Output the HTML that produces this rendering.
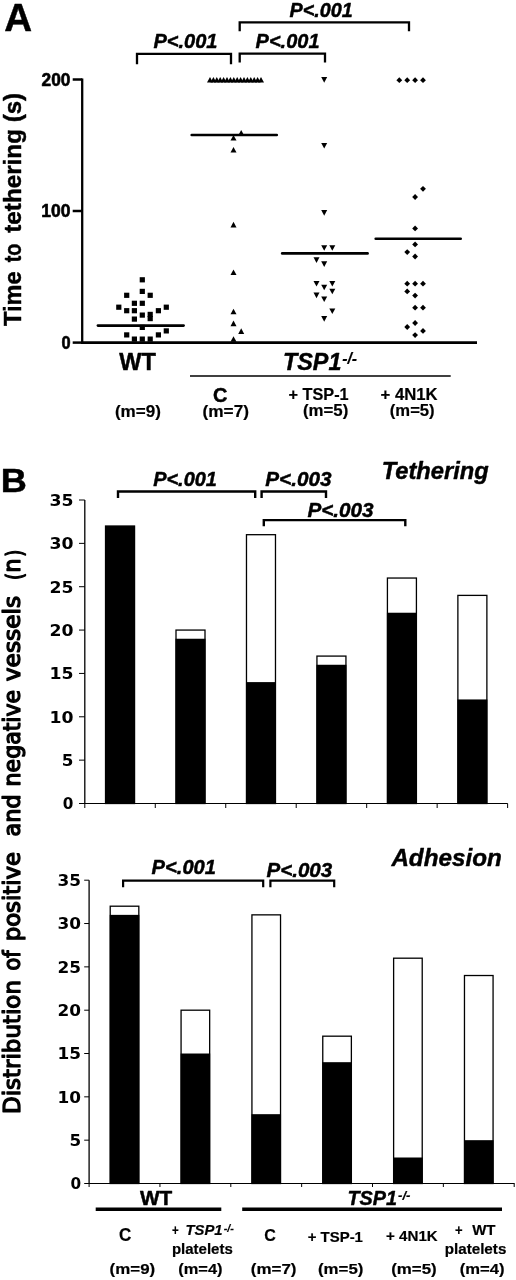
<!DOCTYPE html>
<html><head><meta charset="utf-8"><title>Figure</title>
<style>html,body{margin:0;padding:0;background:#fff}svg{display:block}text{fill:#000;stroke:#000;stroke-width:0.45px;stroke-linejoin:round}</style></head>
<body>
<svg width="516" height="1280" viewBox="0 0 516 1280">
<rect width="516" height="1280" fill="#fff"/>
<line x1="82.20" y1="78.40" x2="82.20" y2="343.75" stroke="#000" stroke-width="2.3" stroke-linecap="butt"/>
<line x1="81.05" y1="342.60" x2="477.00" y2="342.60" stroke="#000" stroke-width="2.7" stroke-linecap="butt"/>
<line x1="72.70" y1="79.50" x2="82.20" y2="79.50" stroke="#000" stroke-width="2.5" stroke-linecap="butt"/>
<line x1="72.70" y1="211.00" x2="82.20" y2="211.00" stroke="#000" stroke-width="2.5" stroke-linecap="butt"/>
<line x1="72.70" y1="342.60" x2="82.20" y2="342.60" stroke="#000" stroke-width="2.5" stroke-linecap="butt"/>
<line x1="97.90" y1="325.60" x2="183.60" y2="325.60" stroke="#000" stroke-width="2.6" stroke-linecap="round"/>
<line x1="191.70" y1="135.00" x2="276.80" y2="135.00" stroke="#000" stroke-width="2.6" stroke-linecap="round"/>
<line x1="282.20" y1="253.40" x2="367.60" y2="253.40" stroke="#000" stroke-width="2.6" stroke-linecap="round"/>
<line x1="375.70" y1="238.80" x2="460.70" y2="238.80" stroke="#000" stroke-width="2.6" stroke-linecap="round"/>
<path d="M137.00 64.30V53.80H231.00V64.30" fill="none" stroke="#000" stroke-width="2.3" stroke-linejoin="miter"/>
<path d="M239.70 31.30V22.30H409.00V31.30" fill="none" stroke="#000" stroke-width="2.3" stroke-linejoin="miter"/>
<path d="M239.70 62.60V53.60H325.00V62.60" fill="none" stroke="#000" stroke-width="2.3" stroke-linejoin="miter"/>
<line x1="190.00" y1="376.00" x2="450.70" y2="376.00" stroke="#000" stroke-width="1.7" stroke-linecap="butt"/>
<rect x="139.70" y="277.20" width="5.2" height="5.2"/>
<rect x="139.70" y="288.80" width="5.2" height="5.2"/>
<rect x="124.10" y="292.70" width="5.2" height="5.2"/>
<rect x="147.60" y="292.70" width="5.2" height="5.2"/>
<rect x="131.80" y="300.70" width="5.2" height="5.2"/>
<rect x="139.70" y="300.70" width="5.2" height="5.2"/>
<rect x="116.20" y="304.60" width="5.2" height="5.2"/>
<rect x="163.70" y="304.60" width="5.2" height="5.2"/>
<rect x="124.10" y="308.10" width="5.2" height="5.2"/>
<rect x="131.80" y="308.10" width="5.2" height="5.2"/>
<rect x="155.80" y="308.10" width="5.2" height="5.2"/>
<rect x="139.70" y="312.50" width="5.2" height="5.2"/>
<rect x="147.60" y="311.80" width="5.2" height="5.2"/>
<rect x="131.80" y="316.50" width="5.2" height="5.2"/>
<rect x="147.60" y="316.00" width="5.2" height="5.2"/>
<rect x="139.70" y="324.80" width="5.2" height="5.2"/>
<rect x="163.70" y="328.30" width="5.2" height="5.2"/>
<rect x="124.10" y="332.30" width="5.2" height="5.2"/>
<rect x="155.80" y="332.30" width="5.2" height="5.2"/>
<rect x="131.80" y="336.50" width="5.2" height="5.2"/>
<rect x="139.70" y="336.50" width="5.2" height="5.2"/>
<rect x="147.60" y="336.50" width="5.2" height="5.2"/>
<path d="M238.20 135.50L241.20 129.90L244.20 135.50Z"/>
<path d="M230.50 140.60L233.50 135.00L236.50 140.60Z"/>
<path d="M230.50 152.50L233.50 146.90L236.50 152.50Z"/>
<path d="M230.50 227.40L233.50 221.80L236.50 227.40Z"/>
<path d="M230.50 275.00L233.50 269.40L236.50 275.00Z"/>
<path d="M230.50 314.30L233.50 308.70L236.50 314.30Z"/>
<path d="M230.50 326.20L233.50 320.60L236.50 326.20Z"/>
<path d="M238.20 333.90L241.20 328.30L244.20 333.90Z"/>
<path d="M230.50 341.80L233.50 336.20L236.50 341.80Z"/>
<path d="M207.00 82.50L210.00 76.90L213.00 82.50Z"/>
<path d="M210.40 82.50L213.40 76.90L216.40 82.50Z"/>
<path d="M213.80 82.50L216.80 76.90L219.80 82.50Z"/>
<path d="M217.20 82.50L220.20 76.90L223.20 82.50Z"/>
<path d="M220.60 82.50L223.60 76.90L226.60 82.50Z"/>
<path d="M224.00 82.50L227.00 76.90L230.00 82.50Z"/>
<path d="M227.40 82.50L230.40 76.90L233.40 82.50Z"/>
<path d="M230.80 82.50L233.80 76.90L236.80 82.50Z"/>
<path d="M234.20 82.50L237.20 76.90L240.20 82.50Z"/>
<path d="M237.60 82.50L240.60 76.90L243.60 82.50Z"/>
<path d="M241.00 82.50L244.00 76.90L247.00 82.50Z"/>
<path d="M244.40 82.50L247.40 76.90L250.40 82.50Z"/>
<path d="M247.80 82.50L250.80 76.90L253.80 82.50Z"/>
<path d="M251.20 82.50L254.20 76.90L257.20 82.50Z"/>
<path d="M254.60 82.50L257.60 76.90L260.60 82.50Z"/>
<path d="M258.00 82.50L261.00 76.90L264.00 82.50Z"/>
<path d="M321.20 77.10L324.20 82.70L327.20 77.10Z"/>
<path d="M321.20 142.90L324.20 148.50L327.20 142.90Z"/>
<path d="M321.20 210.10L324.20 215.70L327.20 210.10Z"/>
<path d="M321.20 245.20L324.20 250.80L327.20 245.20Z"/>
<path d="M329.30 245.20L332.30 250.80L335.30 245.20Z"/>
<path d="M313.50 257.30L316.50 262.90L319.50 257.30Z"/>
<path d="M321.20 261.30L324.20 266.90L327.20 261.30Z"/>
<path d="M313.50 281.00L316.50 286.60L319.50 281.00Z"/>
<path d="M329.30 281.00L332.30 286.60L335.30 281.00Z"/>
<path d="M321.20 284.70L324.20 290.30L327.20 284.70Z"/>
<path d="M329.30 288.70L332.30 294.30L335.30 288.70Z"/>
<path d="M313.50 292.60L316.50 298.20L319.50 292.60Z"/>
<path d="M321.20 296.40L324.20 302.00L327.20 296.40Z"/>
<path d="M329.30 308.50L332.30 314.10L335.30 308.50Z"/>
<path d="M321.20 316.10L324.20 321.70L327.20 316.10Z"/>
<path d="M396.40 80.20L399.30 77.30L402.20 80.20L399.30 83.10Z"/>
<path d="M404.30 80.20L407.20 77.30L410.10 80.20L407.20 83.10Z"/>
<path d="M412.20 80.20L415.10 77.30L418.00 80.20L415.10 83.10Z"/>
<path d="M420.10 80.20L423.00 77.30L425.90 80.20L423.00 83.10Z"/>
<path d="M420.10 188.80L423.00 185.90L425.90 188.80L423.00 191.70Z"/>
<path d="M412.20 197.00L415.10 194.10L418.00 197.00L415.10 199.90Z"/>
<path d="M412.20 228.40L415.10 225.50L418.00 228.40L415.10 231.30Z"/>
<path d="M412.20 244.40L415.10 241.50L418.00 244.40L415.10 247.30Z"/>
<path d="M404.30 252.10L407.20 249.20L410.10 252.10L407.20 255.00Z"/>
<path d="M412.20 256.50L415.10 253.60L418.00 256.50L415.10 259.40Z"/>
<path d="M404.30 283.70L407.20 280.80L410.10 283.70L407.20 286.60Z"/>
<path d="M412.20 283.70L415.10 280.80L418.00 283.70L415.10 286.60Z"/>
<path d="M420.10 283.70L423.00 280.80L425.90 283.70L423.00 286.60Z"/>
<path d="M404.30 291.40L407.20 288.50L410.10 291.40L407.20 294.30Z"/>
<path d="M412.20 295.60L415.10 292.70L418.00 295.60L415.10 298.50Z"/>
<path d="M412.20 307.70L415.10 304.80L418.00 307.70L415.10 310.60Z"/>
<path d="M420.10 307.70L423.00 304.80L425.90 307.70L423.00 310.60Z"/>
<path d="M412.20 323.00L415.10 320.10L418.00 323.00L415.10 325.90Z"/>
<path d="M404.30 327.00L407.20 324.10L410.10 327.00L407.20 329.90Z"/>
<path d="M420.10 330.90L423.00 328.00L425.90 330.90L423.00 333.80Z"/>
<path d="M412.20 335.10L415.10 332.20L418.00 335.10L415.10 338.00Z"/>
<line x1="84.80" y1="500.00" x2="84.80" y2="803.50" stroke="#000" stroke-width="1.3" stroke-linecap="butt"/>
<line x1="79.00" y1="803.50" x2="507.70" y2="803.50" stroke="#000" stroke-width="1.2" stroke-linecap="butt"/>
<line x1="79.00" y1="760.14" x2="84.80" y2="760.14" stroke="#000" stroke-width="1" stroke-linecap="butt"/>
<line x1="79.00" y1="716.79" x2="84.80" y2="716.79" stroke="#000" stroke-width="1" stroke-linecap="butt"/>
<line x1="79.00" y1="673.43" x2="84.80" y2="673.43" stroke="#000" stroke-width="1" stroke-linecap="butt"/>
<line x1="79.00" y1="630.07" x2="84.80" y2="630.07" stroke="#000" stroke-width="1" stroke-linecap="butt"/>
<line x1="79.00" y1="586.71" x2="84.80" y2="586.71" stroke="#000" stroke-width="1" stroke-linecap="butt"/>
<line x1="79.00" y1="543.36" x2="84.80" y2="543.36" stroke="#000" stroke-width="1" stroke-linecap="butt"/>
<line x1="79.00" y1="500.00" x2="84.80" y2="500.00" stroke="#000" stroke-width="1" stroke-linecap="butt"/>
<line x1="155.27" y1="803.50" x2="155.27" y2="808.00" stroke="#000" stroke-width="1" stroke-linecap="butt"/>
<line x1="225.74" y1="803.50" x2="225.74" y2="808.00" stroke="#000" stroke-width="1" stroke-linecap="butt"/>
<line x1="296.21" y1="803.50" x2="296.21" y2="808.00" stroke="#000" stroke-width="1" stroke-linecap="butt"/>
<line x1="366.68" y1="803.50" x2="366.68" y2="808.00" stroke="#000" stroke-width="1" stroke-linecap="butt"/>
<line x1="437.15" y1="803.50" x2="437.15" y2="808.00" stroke="#000" stroke-width="1" stroke-linecap="butt"/>
<line x1="507.62" y1="803.50" x2="507.62" y2="808.00" stroke="#000" stroke-width="1" stroke-linecap="butt"/>
<line x1="84.80" y1="803.50" x2="84.80" y2="808.00" stroke="#000" stroke-width="1" stroke-linecap="butt"/>
<rect x="105.53" y="526.01" width="29" height="277.49" fill="#fff" stroke="#000" stroke-width="1.3"/>
<rect x="105.03" y="526.01" width="30" height="277.49" fill="#000"/>
<rect x="176.00" y="630.07" width="29" height="173.43" fill="#fff" stroke="#000" stroke-width="1.3"/>
<rect x="175.50" y="638.74" width="30" height="164.76" fill="#000"/>
<rect x="246.48" y="534.69" width="29" height="268.81" fill="#fff" stroke="#000" stroke-width="1.3"/>
<rect x="245.98" y="682.10" width="30" height="121.40" fill="#000"/>
<rect x="316.94" y="656.09" width="29" height="147.41" fill="#fff" stroke="#000" stroke-width="1.3"/>
<rect x="316.44" y="664.76" width="30" height="138.74" fill="#000"/>
<rect x="387.42" y="578.04" width="29" height="225.46" fill="#fff" stroke="#000" stroke-width="1.3"/>
<rect x="386.92" y="612.73" width="30" height="190.77" fill="#000"/>
<rect x="457.88" y="595.39" width="29" height="208.11" fill="#fff" stroke="#000" stroke-width="1.3"/>
<rect x="457.38" y="699.44" width="30" height="104.06" fill="#000"/>
<line x1="89.10" y1="880.20" x2="89.10" y2="1183.50" stroke="#000" stroke-width="1.3" stroke-linecap="butt"/>
<line x1="84.20" y1="1183.50" x2="514.60" y2="1183.50" stroke="#000" stroke-width="1.2" stroke-linecap="butt"/>
<line x1="84.20" y1="1140.17" x2="89.10" y2="1140.17" stroke="#000" stroke-width="1" stroke-linecap="butt"/>
<line x1="84.20" y1="1096.84" x2="89.10" y2="1096.84" stroke="#000" stroke-width="1" stroke-linecap="butt"/>
<line x1="84.20" y1="1053.51" x2="89.10" y2="1053.51" stroke="#000" stroke-width="1" stroke-linecap="butt"/>
<line x1="84.20" y1="1010.19" x2="89.10" y2="1010.19" stroke="#000" stroke-width="1" stroke-linecap="butt"/>
<line x1="84.20" y1="966.86" x2="89.10" y2="966.86" stroke="#000" stroke-width="1" stroke-linecap="butt"/>
<line x1="84.20" y1="923.53" x2="89.10" y2="923.53" stroke="#000" stroke-width="1" stroke-linecap="butt"/>
<line x1="84.20" y1="880.20" x2="89.10" y2="880.20" stroke="#000" stroke-width="1" stroke-linecap="butt"/>
<line x1="159.95" y1="1183.50" x2="159.95" y2="1187.00" stroke="#000" stroke-width="1" stroke-linecap="butt"/>
<line x1="230.80" y1="1183.50" x2="230.80" y2="1187.00" stroke="#000" stroke-width="1" stroke-linecap="butt"/>
<line x1="301.65" y1="1183.50" x2="301.65" y2="1187.00" stroke="#000" stroke-width="1" stroke-linecap="butt"/>
<line x1="372.50" y1="1183.50" x2="372.50" y2="1187.00" stroke="#000" stroke-width="1" stroke-linecap="butt"/>
<line x1="443.35" y1="1183.50" x2="443.35" y2="1187.00" stroke="#000" stroke-width="1" stroke-linecap="butt"/>
<line x1="514.20" y1="1183.50" x2="514.20" y2="1187.00" stroke="#000" stroke-width="1" stroke-linecap="butt"/>
<line x1="89.10" y1="1183.50" x2="89.10" y2="1187.00" stroke="#000" stroke-width="1" stroke-linecap="butt"/>
<rect x="110.22" y="906.20" width="28.6" height="277.30" fill="#fff" stroke="#000" stroke-width="1.3"/>
<rect x="109.72" y="914.86" width="29.6" height="268.64" fill="#000"/>
<rect x="181.07" y="1010.19" width="28.6" height="173.31" fill="#fff" stroke="#000" stroke-width="1.3"/>
<rect x="180.57" y="1053.51" width="29.6" height="129.99" fill="#000"/>
<rect x="251.93" y="914.86" width="28.6" height="268.64" fill="#fff" stroke="#000" stroke-width="1.3"/>
<rect x="251.43" y="1114.17" width="29.6" height="69.33" fill="#000"/>
<rect x="322.77" y="1036.18" width="28.6" height="147.32" fill="#fff" stroke="#000" stroke-width="1.3"/>
<rect x="322.27" y="1062.18" width="29.6" height="121.32" fill="#000"/>
<rect x="393.62" y="958.19" width="28.6" height="225.31" fill="#fff" stroke="#000" stroke-width="1.3"/>
<rect x="393.12" y="1157.50" width="29.6" height="26.00" fill="#000"/>
<rect x="464.47" y="975.52" width="28.6" height="207.98" fill="#fff" stroke="#000" stroke-width="1.3"/>
<rect x="463.97" y="1140.17" width="29.6" height="43.33" fill="#000"/>
<path d="M118.00 498.00V491.50H255.20V498.00" fill="none" stroke="#000" stroke-width="2.4" stroke-linejoin="miter"/>
<path d="M261.60 498.00V491.50H326.00V498.00" fill="none" stroke="#000" stroke-width="2.4" stroke-linejoin="miter"/>
<path d="M263.80 526.30V520.10H405.30V526.30" fill="none" stroke="#000" stroke-width="2.4" stroke-linejoin="miter"/>
<path d="M123.10 887.20V880.60H263.20V887.20" fill="none" stroke="#000" stroke-width="2.2" stroke-linejoin="miter"/>
<path d="M270.40 887.20V880.60H334.20V887.20" fill="none" stroke="#000" stroke-width="2.2" stroke-linejoin="miter"/>
<line x1="95.70" y1="1209.30" x2="221.30" y2="1209.30" stroke="#000" stroke-width="3.5" stroke-linecap="butt"/>
<line x1="242.20" y1="1209.30" x2="502.00" y2="1209.30" stroke="#000" stroke-width="3.5" stroke-linecap="butt"/>
<text x="4.30" y="31.00"  font-family="'Liberation Sans', Arial, Helvetica, sans-serif" font-size="39" font-weight="bold" font-style="normal" textLength="27.86" lengthAdjust="spacingAndGlyphs">A</text>
<text x="153.40" y="47.60"  font-family="'Liberation Sans', Arial, Helvetica, sans-serif" font-size="20" font-weight="bold" font-style="italic" textLength="64.12" lengthAdjust="spacingAndGlyphs">P&lt;.001</text>
<text x="289.50" y="16.80"  font-family="'Liberation Sans', Arial, Helvetica, sans-serif" font-size="20" font-weight="bold" font-style="italic" textLength="63.22" lengthAdjust="spacingAndGlyphs">P&lt;.001</text>
<text x="255.60" y="47.60"  font-family="'Liberation Sans', Arial, Helvetica, sans-serif" font-size="20" font-weight="bold" font-style="italic" textLength="63.92" lengthAdjust="spacingAndGlyphs">P&lt;.001</text>
<text x="41.50" y="85.80" style="stroke-width:0.6px" font-family="'Liberation Sans', Arial, Helvetica, sans-serif" font-size="18" font-weight="bold" font-style="normal" textLength="28.91" lengthAdjust="spacingAndGlyphs">200</text>
<text x="41.23" y="217.10" style="stroke-width:0.6px" font-family="'Liberation Sans', Arial, Helvetica, sans-serif" font-size="18" font-weight="bold" font-style="normal" textLength="29.18" lengthAdjust="spacingAndGlyphs">100</text>
<text x="61.50" y="348.80" style="stroke-width:0.6px" font-family="'Liberation Sans', Arial, Helvetica, sans-serif" font-size="18" font-weight="bold" font-style="normal" textLength="9.11" lengthAdjust="spacingAndGlyphs">0</text>
<text x="119.20" y="369.50"  font-family="'Liberation Sans', Arial, Helvetica, sans-serif" font-size="23" font-weight="bold" font-style="normal" textLength="36.65" lengthAdjust="spacingAndGlyphs">WT</text>
<text x="283.01" y="370.10"  font-family="'Liberation Sans', Arial, Helvetica, sans-serif" font-size="23.5" font-weight="bold" font-style="italic" textLength="58.46" lengthAdjust="spacingAndGlyphs">TSP1</text>
<text x="342.20" y="364.00" style="stroke-width:0.2px" font-family="'Liberation Sans', Arial, Helvetica, sans-serif" font-size="16" font-weight="bold" font-style="italic" textLength="14.92" lengthAdjust="spacingAndGlyphs">-/-</text>
<text x="213.00" y="402.00"  font-family="'Liberation Sans', Arial, Helvetica, sans-serif" font-size="19.5" font-weight="bold" font-style="normal" textLength="14.38" lengthAdjust="spacingAndGlyphs">C</text>
<text x="114.90" y="416.60" style="stroke-width:0.2px" font-family="'Liberation Sans', Arial, Helvetica, sans-serif" font-size="16" font-weight="bold" font-style="normal" textLength="45.95" lengthAdjust="spacingAndGlyphs">(m=9)</text>
<text x="202.50" y="416.60" style="stroke-width:0.2px" font-family="'Liberation Sans', Arial, Helvetica, sans-serif" font-size="16" font-weight="bold" font-style="normal" textLength="46.45" lengthAdjust="spacingAndGlyphs">(m=7)</text>
<text x="288.50" y="399.80" style="stroke-width:0.2px" font-family="'Liberation Sans', Arial, Helvetica, sans-serif" font-size="17.3" font-weight="bold" font-style="normal" textLength="60.13" lengthAdjust="spacingAndGlyphs">+ TSP-1</text>
<text x="303.00" y="416.40" style="stroke-width:0.2px" font-family="'Liberation Sans', Arial, Helvetica, sans-serif" font-size="16" font-weight="bold" font-style="normal" textLength="45.24" lengthAdjust="spacingAndGlyphs">(m=5)</text>
<text x="380.50" y="399.60" style="stroke-width:0.2px" font-family="'Liberation Sans', Arial, Helvetica, sans-serif" font-size="17.3" font-weight="bold" font-style="normal" textLength="57.20" lengthAdjust="spacingAndGlyphs">+ 4N1K</text>
<text x="389.80" y="416.30" style="stroke-width:0.2px" font-family="'Liberation Sans', Arial, Helvetica, sans-serif" font-size="16" font-weight="bold" font-style="normal" textLength="44.84" lengthAdjust="spacingAndGlyphs">(m=5)</text>
<text transform="translate(20.80 326.00) rotate(-90)" x="0" y="0"  font-family="'Liberation Sans', Arial, Helvetica, sans-serif" font-size="24.5" font-weight="bold" font-style="normal" textLength="54.70" lengthAdjust="spacingAndGlyphs">Time</text>
<text transform="translate(20.80 262.30) rotate(-90)" x="0" y="0"  font-family="'Liberation Sans', Arial, Helvetica, sans-serif" font-size="24.5" font-weight="bold" font-style="normal" textLength="18.57" lengthAdjust="spacingAndGlyphs">to</text>
<text transform="translate(20.80 232.70) rotate(-90)" x="0" y="0"  font-family="'Liberation Sans', Arial, Helvetica, sans-serif" font-size="24.5" font-weight="bold" font-style="normal" textLength="103.65" lengthAdjust="spacingAndGlyphs">tethering</text>
<text transform="translate(20.80 122.28) rotate(-90)" x="0" y="0"  font-family="'Liberation Sans', Arial, Helvetica, sans-serif" font-size="24.5" font-weight="bold" font-style="normal" textLength="29.42" lengthAdjust="spacingAndGlyphs">(s)</text>
<text x="0.87" y="492.00"  font-family="'Liberation Sans', Arial, Helvetica, sans-serif" font-size="34" font-weight="bold" font-style="normal" textLength="26.12" lengthAdjust="spacingAndGlyphs">B</text>
<text x="153.20" y="486.20"  font-family="'Liberation Sans', Arial, Helvetica, sans-serif" font-size="20" font-weight="bold" font-style="italic" textLength="63.72" lengthAdjust="spacingAndGlyphs">P&lt;.001</text>
<text x="265.30" y="486.40"  font-family="'Liberation Sans', Arial, Helvetica, sans-serif" font-size="20" font-weight="bold" font-style="italic" textLength="66.23" lengthAdjust="spacingAndGlyphs">P&lt;.003</text>
<text x="307.50" y="517.40"  font-family="'Liberation Sans', Arial, Helvetica, sans-serif" font-size="20" font-weight="bold" font-style="italic" textLength="66.13" lengthAdjust="spacingAndGlyphs">P&lt;.003</text>
<text x="381.71" y="479.30"  font-family="'Liberation Sans', Arial, Helvetica, sans-serif" font-size="24" font-weight="bold" font-style="italic" textLength="106.95" lengthAdjust="spacingAndGlyphs">Tethering</text>
<text x="391.39" y="865.50"  font-family="'Liberation Sans', Arial, Helvetica, sans-serif" font-size="24.5" font-weight="bold" font-style="italic" textLength="110.37" lengthAdjust="spacingAndGlyphs">Adhesion</text>
<text x="151.60" y="874.40"  font-family="'Liberation Sans', Arial, Helvetica, sans-serif" font-size="20" font-weight="bold" font-style="italic" textLength="64.42" lengthAdjust="spacingAndGlyphs">P&lt;.001</text>
<text x="266.50" y="877.20"  font-family="'Liberation Sans', Arial, Helvetica, sans-serif" font-size="20" font-weight="bold" font-style="italic" textLength="65.63" lengthAdjust="spacingAndGlyphs">P&lt;.003</text>
<text x="62.80" y="809.30" style="stroke:none" font-family="'DejaVu Sans', Verdana, sans-serif" font-size="16" font-weight="bold" font-style="normal" textLength="10.63" lengthAdjust="spacingAndGlyphs">0</text>
<text x="61.75" y="765.95" style="stroke:none" font-family="'DejaVu Sans', Verdana, sans-serif" font-size="16" font-weight="bold" font-style="normal" textLength="11.69" lengthAdjust="spacingAndGlyphs">5</text>
<text x="49.42" y="722.60" style="stroke:none" font-family="'DejaVu Sans', Verdana, sans-serif" font-size="16" font-weight="bold" font-style="normal" textLength="24.02" lengthAdjust="spacingAndGlyphs">10</text>
<text x="49.42" y="679.25" style="stroke:none" font-family="'DejaVu Sans', Verdana, sans-serif" font-size="16" font-weight="bold" font-style="normal" textLength="24.02" lengthAdjust="spacingAndGlyphs">15</text>
<text x="49.42" y="635.90" style="stroke:none" font-family="'DejaVu Sans', Verdana, sans-serif" font-size="16" font-weight="bold" font-style="normal" textLength="24.02" lengthAdjust="spacingAndGlyphs">20</text>
<text x="49.42" y="592.55" style="stroke:none" font-family="'DejaVu Sans', Verdana, sans-serif" font-size="16" font-weight="bold" font-style="normal" textLength="24.02" lengthAdjust="spacingAndGlyphs">25</text>
<text x="49.42" y="549.20" style="stroke:none" font-family="'DejaVu Sans', Verdana, sans-serif" font-size="16" font-weight="bold" font-style="normal" textLength="24.02" lengthAdjust="spacingAndGlyphs">30</text>
<text x="49.42" y="505.85" style="stroke:none" font-family="'DejaVu Sans', Verdana, sans-serif" font-size="16" font-weight="bold" font-style="normal" textLength="24.02" lengthAdjust="spacingAndGlyphs">35</text>
<text x="70.50" y="1189.30" style="stroke:none" font-family="'DejaVu Sans', Verdana, sans-serif" font-size="16" font-weight="bold" font-style="normal" textLength="10.63" lengthAdjust="spacingAndGlyphs">0</text>
<text x="69.45" y="1145.97" style="stroke:none" font-family="'DejaVu Sans', Verdana, sans-serif" font-size="16" font-weight="bold" font-style="normal" textLength="11.69" lengthAdjust="spacingAndGlyphs">5</text>
<text x="57.64" y="1102.64" style="stroke:none" font-family="'DejaVu Sans', Verdana, sans-serif" font-size="16" font-weight="bold" font-style="normal" textLength="23.50" lengthAdjust="spacingAndGlyphs">10</text>
<text x="57.64" y="1059.31" style="stroke:none" font-family="'DejaVu Sans', Verdana, sans-serif" font-size="16" font-weight="bold" font-style="normal" textLength="23.50" lengthAdjust="spacingAndGlyphs">15</text>
<text x="57.64" y="1015.98" style="stroke:none" font-family="'DejaVu Sans', Verdana, sans-serif" font-size="16" font-weight="bold" font-style="normal" textLength="23.50" lengthAdjust="spacingAndGlyphs">20</text>
<text x="57.64" y="972.65" style="stroke:none" font-family="'DejaVu Sans', Verdana, sans-serif" font-size="16" font-weight="bold" font-style="normal" textLength="23.50" lengthAdjust="spacingAndGlyphs">25</text>
<text x="57.64" y="929.32" style="stroke:none" font-family="'DejaVu Sans', Verdana, sans-serif" font-size="16" font-weight="bold" font-style="normal" textLength="23.50" lengthAdjust="spacingAndGlyphs">30</text>
<text x="57.64" y="885.99" style="stroke:none" font-family="'DejaVu Sans', Verdana, sans-serif" font-size="16" font-weight="bold" font-style="normal" textLength="23.50" lengthAdjust="spacingAndGlyphs">35</text>
<text transform="translate(20.10 1114.06) rotate(-90)" x="0" y="0" style="stroke-width:1.3px" font-family="'DejaVu Sans', Verdana, sans-serif" font-size="22.3" font-weight="normal" font-style="normal" textLength="134.03" lengthAdjust="spacingAndGlyphs">Distribution</text>
<text transform="translate(20.10 970.44) rotate(-90)" x="0" y="0" style="stroke-width:1.3px" font-family="'DejaVu Sans', Verdana, sans-serif" font-size="22.3" font-weight="normal" font-style="normal" textLength="20.16" lengthAdjust="spacingAndGlyphs">of</text>
<text transform="translate(20.10 941.35) rotate(-90)" x="0" y="0" style="stroke-width:1.3px" font-family="'DejaVu Sans', Verdana, sans-serif" font-size="22.3" font-weight="normal" font-style="normal" textLength="89.48" lengthAdjust="spacingAndGlyphs">positive</text>
<text transform="translate(20.10 836.40) rotate(-90)" x="0" y="0" style="stroke-width:1.3px" font-family="'DejaVu Sans', Verdana, sans-serif" font-size="22.3" font-weight="normal" font-style="normal" textLength="41.95" lengthAdjust="spacingAndGlyphs">and</text>
<text transform="translate(20.10 786.38) rotate(-90)" x="0" y="0" style="stroke-width:1.3px" font-family="'DejaVu Sans', Verdana, sans-serif" font-size="22.3" font-weight="normal" font-style="normal" textLength="96.49" lengthAdjust="spacingAndGlyphs">negative</text>
<text transform="translate(20.10 681.30) rotate(-90)" x="0" y="0" style="stroke-width:1.3px" font-family="'DejaVu Sans', Verdana, sans-serif" font-size="22.3" font-weight="normal" font-style="normal" textLength="85.55" lengthAdjust="spacingAndGlyphs">vessels</text>
<text transform="translate(20.10 572.56) rotate(-90)" x="0" y="0" style="stroke-width:1.3px" font-family="'DejaVu Sans', Verdana, sans-serif" font-size="22.3" font-weight="normal" font-style="normal" textLength="13.87" lengthAdjust="spacingAndGlyphs">n</text>
<text x="140.00" y="1204.90"  font-family="'Liberation Sans', Arial, Helvetica, sans-serif" font-size="19.5" font-weight="bold" font-style="normal" textLength="32.31" lengthAdjust="spacingAndGlyphs">WT</text>
<text x="347.52" y="1204.90"  font-family="'Liberation Sans', Arial, Helvetica, sans-serif" font-size="20.2" font-weight="bold" font-style="italic" textLength="49.50" lengthAdjust="spacingAndGlyphs">TSP1</text>
<text x="398.00" y="1200.20" style="stroke-width:0.2px" font-family="'Liberation Sans', Arial, Helvetica, sans-serif" font-size="13.5" font-weight="bold" font-style="italic" textLength="12.41" lengthAdjust="spacingAndGlyphs">-/-</text>
<text x="119.00" y="1240.80" style="stroke-width:0.2px" font-family="'Liberation Sans', Arial, Helvetica, sans-serif" font-size="18" font-weight="bold" font-style="normal" textLength="12.30" lengthAdjust="spacingAndGlyphs">C</text>
<text x="171.90" y="1235.10" style="stroke-width:0.2px" font-family="'Liberation Sans', Arial, Helvetica, sans-serif" font-size="14.8" font-weight="bold" font-style="normal" textLength="6.72" lengthAdjust="spacingAndGlyphs">+</text>
<text x="185.50" y="1235.10" style="stroke-width:0.2px" font-family="'Liberation Sans', Arial, Helvetica, sans-serif" font-size="14.8" font-weight="bold" font-style="italic" textLength="37.13" lengthAdjust="spacingAndGlyphs">TSP1</text>
<text x="223.70" y="1231.60" style="stroke-width:0.2px" font-family="'Liberation Sans', Arial, Helvetica, sans-serif" font-size="11" font-weight="bold" font-style="italic" textLength="10.07" lengthAdjust="spacingAndGlyphs">-/-</text>
<text x="171.90" y="1253.70" style="stroke-width:0.2px" font-family="'Liberation Sans', Arial, Helvetica, sans-serif" font-size="15" font-weight="bold" font-style="normal" textLength="60.84" lengthAdjust="spacingAndGlyphs">platelets</text>
<text x="109.60" y="1273.70" style="stroke-width:0.2px" font-family="'Liberation Sans', Arial, Helvetica, sans-serif" font-size="15.5" font-weight="bold" font-style="normal" textLength="45.58" lengthAdjust="spacingAndGlyphs">(m=9)</text>
<text x="178.30" y="1273.60" style="stroke-width:0.2px" font-family="'Liberation Sans', Arial, Helvetica, sans-serif" font-size="15.5" font-weight="bold" font-style="normal" textLength="44.27" lengthAdjust="spacingAndGlyphs">(m=4)</text>
<text x="264.20" y="1241.00" style="stroke-width:0.2px" font-family="'Liberation Sans', Arial, Helvetica, sans-serif" font-size="17" font-weight="bold" font-style="normal" textLength="11.56" lengthAdjust="spacingAndGlyphs">C</text>
<text x="307.70" y="1241.70" style="stroke-width:0.2px" font-family="'Liberation Sans', Arial, Helvetica, sans-serif" font-size="15" font-weight="bold" font-style="normal" textLength="55.24" lengthAdjust="spacingAndGlyphs">+ TSP-1</text>
<text x="250.80" y="1273.80" style="stroke-width:0.2px" font-family="'Liberation Sans', Arial, Helvetica, sans-serif" font-size="15.5" font-weight="bold" font-style="normal" textLength="45.68" lengthAdjust="spacingAndGlyphs">(m=7)</text>
<text x="318.00" y="1273.80" style="stroke-width:0.2px" font-family="'Liberation Sans', Arial, Helvetica, sans-serif" font-size="15.5" font-weight="bold" font-style="normal" textLength="45.38" lengthAdjust="spacingAndGlyphs">(m=5)</text>
<text x="386.00" y="1241.40" style="stroke-width:0.2px" font-family="'Liberation Sans', Arial, Helvetica, sans-serif" font-size="15" font-weight="bold" font-style="normal" textLength="51.73" lengthAdjust="spacingAndGlyphs">+ 4N1K</text>
<text x="391.20" y="1273.80" style="stroke-width:0.2px" font-family="'Liberation Sans', Arial, Helvetica, sans-serif" font-size="15.5" font-weight="bold" font-style="normal" textLength="45.48" lengthAdjust="spacingAndGlyphs">(m=5)</text>
<text x="455.10" y="1235.10" style="stroke-width:0.2px" font-family="'Liberation Sans', Arial, Helvetica, sans-serif" font-size="15" font-weight="bold" font-style="normal" textLength="7.59" lengthAdjust="spacingAndGlyphs">+</text>
<text x="472.20" y="1235.10" style="stroke-width:0.2px" font-family="'Liberation Sans', Arial, Helvetica, sans-serif" font-size="15" font-weight="bold" font-style="normal" textLength="23.36" lengthAdjust="spacingAndGlyphs">WT</text>
<text x="444.70" y="1253.50" style="stroke-width:0.2px" font-family="'Liberation Sans', Arial, Helvetica, sans-serif" font-size="15" font-weight="bold" font-style="normal" textLength="61.65" lengthAdjust="spacingAndGlyphs">platelets</text>
<text x="459.80" y="1273.90" style="stroke-width:0.2px" font-family="'Liberation Sans', Arial, Helvetica, sans-serif" font-size="15.5" font-weight="bold" font-style="normal" textLength="44.77" lengthAdjust="spacingAndGlyphs">(m=4)</text>
<text transform="translate(23.00 580.02) rotate(-90)" x="0" y="0" style="stroke-width:1.3px" font-family="'DejaVu Sans', Verdana, sans-serif" font-size="22.3" font-weight="normal" font-style="normal" textLength="7.10" lengthAdjust="spacingAndGlyphs">(</text>
<text transform="translate(23.00 556.82) rotate(-90)" x="0" y="0" style="stroke-width:1.3px" font-family="'DejaVu Sans', Verdana, sans-serif" font-size="22.3" font-weight="normal" font-style="normal" textLength="7.10" lengthAdjust="spacingAndGlyphs">)</text>
</svg>
</body></html>
